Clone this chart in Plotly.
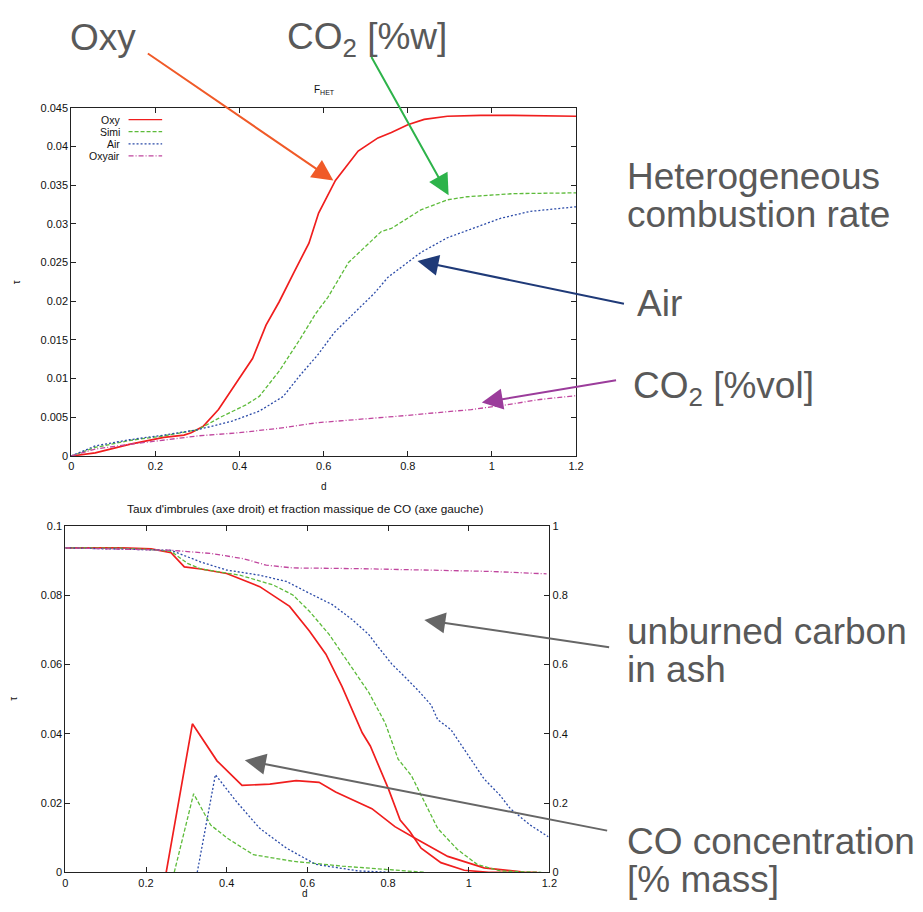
import plotly.graph_objects as go

# ---------------- data ----------------
SERIES = ["Oxy", "Simi", "Air", "Oxyair"]
COLORS = ["#F01E1E", "#5DBB3A", "#2B4BA8", "#C0459E"]
DASHES = ["solid", "4px,2px", "2px,2px", "5px,2px,1px,2px"]

# Top chart: F_HET (heterogeneous combustion rate)
HET_OXY_D = [0, 0.057, 0.138, 0.22, 0.268, 0.285, 0.313, 0.35, 0.394, 0.431, 0.463, 0.494, 0.53, 0.565, 0.588,
             0.628, 0.682, 0.729, 0.761, 0.8, 0.839, 0.894, 0.973, 1.05, 1.2]
HET_OXY_T = [0, 0.0004, 0.0015, 0.0024, 0.0027, 0.003, 0.0038, 0.006, 0.0096, 0.0126, 0.0169, 0.0199, 0.0238, 0.0275,
             0.0314, 0.0356, 0.0394, 0.0411, 0.0418, 0.0428, 0.0435, 0.0439, 0.044, 0.044, 0.0439]
HET_SIMI_D = [0, 0.057, 0.138, 0.22, 0.301, 0.358, 0.415, 0.447, 0.496, 0.545, 0.581, 0.61, 0.659, 0.737, 0.761,
              0.831, 0.894, 0.941, 1.051, 1.2]
HET_SIMI_T = [0, 0.0011, 0.002, 0.0026, 0.0034, 0.0051, 0.0066, 0.0077, 0.0111, 0.0152, 0.0184, 0.0205, 0.025, 0.029,
              0.0294, 0.0318, 0.0331, 0.0335, 0.0339, 0.034]
HET_AIR_D = [0, 0.057, 0.138, 0.22, 0.301, 0.382, 0.447, 0.504, 0.545, 0.585, 0.626, 0.675, 0.72, 0.753, 0.831,
             0.894, 0.957, 1.02, 1.09, 1.2]
HET_AIR_T = [0, 0.0013, 0.0021, 0.0027, 0.0034, 0.0045, 0.0058, 0.0077, 0.0105, 0.013, 0.016, 0.0186, 0.021, 0.0231,
             0.0263, 0.0282, 0.0294, 0.0307, 0.0316, 0.0322]
HET_OXYAIR_D = [0, 0.057, 0.138, 0.22, 0.301, 0.398, 0.496, 0.585, 0.707, 0.789, 0.87, 0.951, 1.033, 1.114, 1.2]
HET_OXYAIR_T = [0, 0.0009, 0.0015, 0.0021, 0.0026, 0.003, 0.0036, 0.0043, 0.0048, 0.0052, 0.0056, 0.006, 0.0066,
                0.0073, 0.0078]

# Bottom chart: unburned fraction (right axis)
UNB_OXY_D = [0, 0.14, 0.213, 0.262, 0.295, 0.336, 0.4, 0.482, 0.556, 0.605, 0.646, 0.686, 0.736, 0.756, 0.801,
             0.83, 0.854, 0.882, 0.931, 0.989, 1.05, 1.1]
UNB_OXY_V = [0.937, 0.937, 0.934, 0.923, 0.882, 0.876, 0.863, 0.825, 0.768, 0.697, 0.63, 0.536, 0.403, 0.365, 0.241,
             0.151, 0.118, 0.07, 0.028, 0.006, 0.0, 0.0]
UNB_SIMI_D = [0, 0.14, 0.213, 0.262, 0.303, 0.336, 0.433, 0.515, 0.564, 0.605, 0.654, 0.703, 0.752, 0.793, 0.825,
              0.858, 0.891, 0.923, 0.972, 1.021, 1.078, 1.18]
UNB_SIMI_V = [0.937, 0.936, 0.932, 0.927, 0.892, 0.876, 0.858, 0.83, 0.801, 0.754, 0.687, 0.602, 0.52, 0.431, 0.327,
              0.279, 0.203, 0.127, 0.066, 0.023, 0.004, 0]
UNB_AIR_D = [0, 0.156, 0.262, 0.336, 0.4, 0.482, 0.548, 0.605, 0.662, 0.711, 0.752, 0.776, 0.809, 0.842, 0.874,
             0.907, 0.923, 0.956, 0.997, 1.038, 1.078, 1.103, 1.152, 1.197]
UNB_AIR_V = [0.937, 0.934, 0.93, 0.896, 0.873, 0.858, 0.84, 0.806, 0.773, 0.73, 0.687, 0.65, 0.602, 0.564, 0.526,
             0.483, 0.441, 0.412, 0.341, 0.27, 0.222, 0.184, 0.137, 0.103]
UNB_OXYAIR_D = [0, 0.156, 0.262, 0.36, 0.441, 0.498, 0.564, 0.727, 0.891, 1.054, 1.193]
UNB_OXYAIR_V = [0.937, 0.934, 0.93, 0.921, 0.906, 0.887, 0.879, 0.877, 0.874, 0.869, 0.862]

# Bottom chart: CO mass fraction (left axis)
CO_OXY_D = [0.25, 0.315, 0.376, 0.438, 0.507, 0.572, 0.629, 0.67, 0.76, 0.817, 0.866, 0.948, 1.038, 1.136, 1.17]
CO_OXY_V = [0, 0.0429, 0.0322, 0.0251, 0.0255, 0.0265, 0.026, 0.0232, 0.0184, 0.0132, 0.0099, 0.0046, 0.0013,
            0.0001, 0]
CO_SIMI_D = [0.27, 0.318, 0.36, 0.401, 0.466, 0.564, 0.686, 0.809, 0.891]
CO_SIMI_V = [0, 0.0227, 0.0137, 0.0099, 0.0051, 0.0032, 0.0018, 0.0006, 0]
CO_AIR_D = [0.327, 0.372, 0.425, 0.482, 0.548, 0.621, 0.727, 0.809]
CO_AIR_V = [0, 0.0282, 0.0203, 0.0127, 0.007, 0.0023, 0.0004, 0]

TOP_TITLE = "F<sub>HET</sub>"
BOTTOM_TITLE = "Taux d'imbrules (axe droit) et fraction massique de CO (axe gauche)"

# ---------------- layout helpers ----------------
OFF = 8
W, H = 907, 896

# pixel frame of the two plot areas (reference pixels)
TOP_X0, TOP_X1, TOP_Y0, TOP_Y1 = 69, 580, 456, 103
BOT_X0, BOT_X1, BOT_Y0, BOT_Y1 = 63, 553, 878, 527


def px(x):
    return (x - OFF) / W


def py(y):
    return 1 - (y - OFF) / H


FONT = "Liberation Sans, Arial, sans-serif"
fig = go.Figure()

het = [(HET_OXY_D, HET_OXY_T), (HET_SIMI_D, HET_SIMI_T), (HET_AIR_D, HET_AIR_T), (HET_OXYAIR_D, HET_OXYAIR_T)]
for i, (d, t) in enumerate(het):
    fig.add_trace(go.Scatter(x=d, y=t, mode="lines", name=SERIES[i], xaxis="x", yaxis="y", showlegend=False,
                             line=dict(color=COLORS[i], width=1.7 if i == 0 else 1.3, dash=DASHES[i])))

unb = [(UNB_OXY_D, UNB_OXY_V), (UNB_SIMI_D, UNB_SIMI_V), (UNB_AIR_D, UNB_AIR_V), (UNB_OXYAIR_D, UNB_OXYAIR_V)]
for i, (d, v) in enumerate(unb):
    fig.add_trace(go.Scatter(x=d, y=v, mode="lines", name=SERIES[i] + " imbrules", xaxis="x2", yaxis="y3",
                             showlegend=False,
                             line=dict(color=COLORS[i], width=1.7 if i == 0 else 1.3, dash=DASHES[i])))
co = [(CO_OXY_D, CO_OXY_V), (CO_SIMI_D, CO_SIMI_V), (CO_AIR_D, CO_AIR_V)]
for i, (d, v) in enumerate(co):
    fig.add_trace(go.Scatter(x=d, y=v, mode="lines", name=SERIES[i] + " CO", xaxis="x2", yaxis="y2",
                             showlegend=False,
                             line=dict(color=COLORS[i], width=1.7 if i == 0 else 1.3, dash=DASHES[i])))

axis_common = dict(showline=True, linecolor="#222", linewidth=1, ticks="inside", ticklen=5, tickcolor="#222",
                   showgrid=False, zeroline=False, tickfont=dict(family=FONT, size=11, color="#111"))

fig.update_layout(
    width=W, height=H, margin=dict(l=0, r=0, t=0, b=0),
    paper_bgcolor="white", plot_bgcolor="white", showlegend=False,
    xaxis=dict(domain=[px(TOP_X0), px(TOP_X1)], range=[0, 1.2], dtick=0.2, anchor="y", mirror="ticks",
               **axis_common),
    yaxis=dict(domain=[py(TOP_Y0), py(TOP_Y1)], range=[0, 0.045], dtick=0.005, anchor="x", mirror="ticks",
               **axis_common),
    xaxis2=dict(domain=[px(BOT_X0), px(BOT_X1)], range=[0, 1.2], dtick=0.2, anchor="y2", mirror="ticks",
                **axis_common),
    yaxis2=dict(domain=[py(BOT_Y0), py(BOT_Y1)], range=[0, 0.1], dtick=0.02, anchor="x2", **axis_common),
    yaxis3=dict(range=[0, 1], dtick=0.2, anchor="x2", overlaying="y2", side="right", **axis_common),
)

ann = []
small = dict(family=FONT, size=10, color="#111")
# titles / axis labels
ann.append(dict(text=TOP_TITLE, x=px(325), y=py(85), xref="paper", yref="paper", showarrow=False, font=small,
                xanchor="center", yanchor="middle"))
ann.append(dict(text="d", x=px(325), y=py(487), xref="paper", yref="paper", showarrow=False, font=small,
                xanchor="center", yanchor="middle"))
ann.append(dict(text="τ", x=px(13), y=py(280), xref="paper", yref="paper", showarrow=False, font=small,
                textangle=-90, xanchor="center", yanchor="middle"))
ann.append(dict(text=BOTTOM_TITLE, x=px(306), y=py(510), xref="paper", yref="paper", showarrow=False,
                font=dict(family=FONT, size=11.8, color="#111"), xanchor="center", yanchor="middle"))
ann.append(dict(text="d", x=px(306), y=py(899), xref="paper", yref="paper", showarrow=False, font=small,
                xanchor="center", yanchor="middle"))
ann.append(dict(text="τ", x=px(11), y=py(702), xref="paper", yref="paper", showarrow=False, font=small,
                textangle=-90, xanchor="center", yanchor="middle"))

# legend of top chart (text then line sample, gnuplot style)
shapes = []
for i, name in enumerate(SERIES):
    yy = 115 + 12.3 * i
    ann.append(dict(text=name, x=px(120), y=py(yy), xref="paper", yref="paper", showarrow=False,
                    xanchor="right", yanchor="middle", font=dict(family=FONT, size=10.5, color="#111")))
    shapes.append(dict(type="line", xref="paper", yref="paper", x0=px(127), x1=px(161), y0=py(yy), y1=py(yy),
                       line=dict(color=COLORS[i], width=1.3, dash=DASHES[i])))

# big callout labels
big = dict(family=FONT, size=37, color="#595959")
# labels at the very top are anchored by their top edge so they stay inside the page
top_labels = [("Oxy", 66, 9), ("CO<sub>2</sub> [%w]", 285, 8)]
for t, x, y in top_labels:
    ann.append(dict(text=t, x=px(x), y=py(y), xref="paper", yref="paper", showarrow=False, xanchor="left",
                    yanchor="top", font=big))
labels = [("Heterogeneous", 630, 173),
          ("combustion rate", 630, 211), ("Air", 640, 301), ("CO<sub>2</sub> [%vol]", 636, 387),
          ("unburned carbon", 630, 634), ("in ash", 630, 672), ("CO concentration", 630, 847),
          ("[% mass]", 630, 885)]
for t, x, y in labels:
    ann.append(dict(text=t, x=px(x), y=py(y), xref="paper", yref="paper", showarrow=False, xanchor="left",
                    yanchor="middle", font=big))


# arrows: tip in data coords of an axis pair, tail in reference pixels
def top_data(pxx, pyy):
    return ((pxx - TOP_X0) / (TOP_X1 - TOP_X0) * 1.2, (TOP_Y0 - pyy) / (TOP_Y0 - TOP_Y1) * 0.045)


def bot_data(pxx, pyy):
    return ((pxx - BOT_X0) / (BOT_X1 - BOT_X0) * 1.2, (BOT_Y0 - pyy) / (BOT_Y0 - BOT_Y1) * 0.1)


arrows = [("x", "y", 0.623, 0.0356, top_data(145, 47), "#F05A28"),
          ("x", "y", 0.897, 0.0337, top_data(372, 50), "#2DB34A"),
          ("x", "y", 0.823, 0.0252, top_data(630, 302), "#1F3A78"),
          ("x", "y", 0.976, 0.0069, top_data(622, 379), "#9B3C9B"),
          ("x2", "y2", 0.89, 0.0729, bot_data(615, 650), "#666666"),
          ("x2", "y2", 0.445, 0.0324, bot_data(613, 836), "#666666")]
for xr, yr, tx, ty, (sx, sy), c in arrows:
    ann.append(dict(text="", x=tx, y=ty, xref=xr, yref=yr, ax=sx, ay=sy, axref=xr, ayref=yr,
                    showarrow=True, arrowhead=2, arrowsize=2.1, arrowwidth=2, arrowcolor=c,
                    standoff=0, startstandoff=0))

fig.update_layout(annotations=ann, shapes=shapes)
fig.write_html("out.html")
